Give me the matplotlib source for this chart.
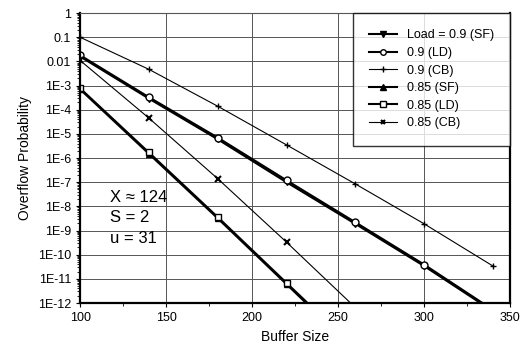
import matplotlib
matplotlib.use('Agg')
import matplotlib.pyplot as plt
from matplotlib.ticker import FixedLocator, FixedFormatter, MultipleLocator, LogLocator, NullFormatter

plt.rcParams['font.family'] = ['Liberation Sans', 'DejaVu Sans']

# buffer sizes for each curve
x_09 = [100, 140, 180, 220, 260, 300, 340]
x_085 = [100, 140, 180, 220, 260]

sf_09 = [0.016, 2.9e-4, 6.0e-6, 1.0e-7, 1.9e-9, 3.4e-11, 4.6e-13]
ld_09 = [0.018, 3.3e-4, 7.0e-6, 1.2e-7, 2.2e-9, 3.9e-11, 5.2e-13]
cb_09 = [0.1, 4.7e-3, 1.4e-4, 3.5e-6, 8.5e-8, 1.9e-9, 3.4e-11]
sf_085 = [7.0e-4, 1.5e-6, 3.2e-9, 6.0e-12, 1.1e-14]
ld_085 = [7.7e-4, 1.7e-6, 3.6e-9, 6.8e-12, 1.3e-14]
cb_085 = [0.011, 4.5e-5, 1.4e-7, 3.3e-10, 6.5e-13]

ytick_vals = [1, 0.1, 0.01, 1e-3, 1e-4, 1e-5, 1e-6, 1e-7, 1e-8, 1e-9, 1e-10, 1e-11, 1e-12]
ytick_labels = ['1', '0.1', '0.01', '1E-3', '1E-4', '1E-5', '1E-6', '1E-7',
                '1E-8', '1E-9', '1E-10', '1E-11', '1E-12']

fig = plt.figure(figsize=(5.27, 3.54), dpi=100)
ax = fig.add_axes([0.152, 0.144, 0.816, 0.819])

ax.plot(x_09, sf_09, color='black', lw=1.5, marker='v', ms=5, label='Load = 0.9 (SF)')
ax.plot(x_09, ld_09, color='black', lw=1.5, marker='o', ms=5, mfc='white', label='0.9 (LD)')
ax.plot(x_09, cb_09, color='black', lw=0.8, marker='+', ms=5, label='0.9 (CB)')
ax.plot(x_085, sf_085, color='black', lw=1.5, marker='^', ms=5, label='0.85 (SF)')
ax.plot(x_085, ld_085, color='black', lw=1.5, marker='s', ms=5, mfc='white', label='0.85 (LD)')
ax.plot(x_085, cb_085, color='black', lw=0.8, marker='x', ms=4, mew=1.5, label='0.85 (CB)')

ax.set_yscale('log')
ax.set_xlim(100, 350)
ax.set_ylim(1e-12, 1)
ax.yaxis.set_major_locator(FixedLocator(ytick_vals))
ax.yaxis.set_major_formatter(FixedFormatter(ytick_labels))
ax.yaxis.set_minor_locator(LogLocator(base=10, subs=range(2, 10), numticks=100))
ax.yaxis.set_minor_formatter(NullFormatter())
ax.xaxis.set_major_locator(MultipleLocator(50))
ax.xaxis.set_minor_locator(MultipleLocator(25))
ax.tick_params(axis='both', labelsize=9, direction='out', length=3)
ax.tick_params(axis='y', which='minor', length=2)

ax.grid(True, which='major', color='#555555', lw=0.7)
for side in ['left', 'bottom', 'right']:
    ax.spines[side].set_linewidth(1.6)
ax.spines['top'].set_linewidth(0.8)
ax.spines['top'].set_color('#555555')

ax.set_xlabel('Buffer Size', fontsize=10)
ax.set_ylabel('Overflow Probability', fontsize=10)

ax.text(0.07, 0.39, 'X ≈ 124\nS = 2\nu = 31', transform=ax.transAxes,
        fontsize=12, va='top', ha='left', linespacing=1.45)

leg = ax.legend(loc='upper right', fontsize=9, frameon=True, fancybox=False,
                edgecolor='black', handlelength=2.2, labelspacing=0.45,
                borderpad=1.3, borderaxespad=0, markerscale=0.8)
leg.get_frame().set_linewidth(1.0)

fig.savefig('out.png', dpi=100)
